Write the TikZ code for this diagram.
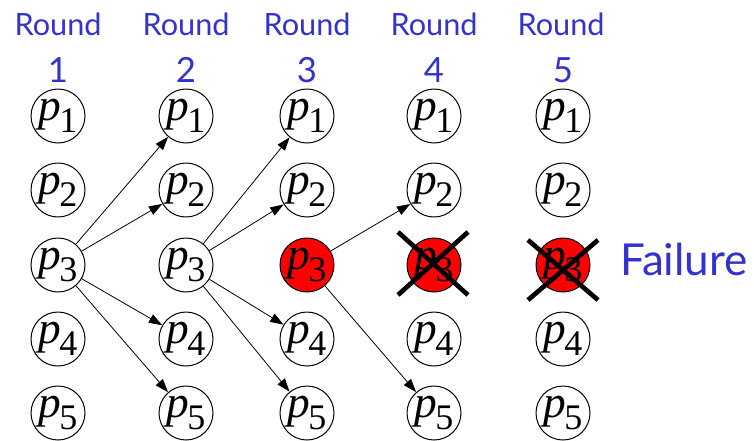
\documentclass[tikz,border=0pt]{standalone}
\usepackage{fontspec}
\setmainfont{Liberation Serif}
\newfontfamily\roundfont{Lato}
\usetikzlibrary{arrows.meta}
\definecolor{roundblue}{RGB}{51,51,204}
\newcommand\proc[1]{\fontsize{34}{34}\selectfont\textit{p}\kern-1.5pt\raisebox{-9pt}{\fontsize{27}{27}\selectfont #1}}
\tikzset{
  proc/.style={circle,draw,line width=0.75pt,minimum size=40.5pt,inner sep=0pt,fill=white},
  failed/.style={proc,fill=red},
  msg/.style={-{Triangle[length=10pt,width=7pt]},line width=0.6pt},
  crossline/.style={line width=3.5pt},
  rlabel/.style={anchor=base,inner sep=0pt,text=roundblue,font=\roundfont\fontsize{23}{23}\selectfont},
  nlabel/.style={rlabel,font=\roundfont\fontsize{26}{26}\selectfont}
}
\begin{document}
\begin{tikzpicture}[x=0.75pt,y=-0.75pt]
		\useasboundingbox (0,0) rectangle (754,440);
		
		\node[rlabel] (r1) at (58,35) {Round};
		\node[nlabel] (n1) at (58,82) {1};
		\node[rlabel] (r2) at (186,35) {Round};
		\node[nlabel] (n2) at (186,82) {2};
		\node[rlabel] (r3) at (307,35) {Round};
		\node[nlabel] (n3) at (307,82) {3};
		\node[rlabel] (r4) at (434,35) {Round};
		\node[nlabel] (n4) at (434,82) {4};
		\node[rlabel] (r5) at (561,35) {Round};
		\node[nlabel] (n5) at (563,82) {5};
		
		\node[proc] (c1p1) at (58,116) {\proc{1}};
		\node[proc] (c1p2) at (58,190) {\proc{2}};
		\node[proc] (c1p3) at (58,265) {\proc{3}};
		\node[proc] (c1p4) at (58,339) {\proc{4}};
		\node[proc] (c1p5) at (58,413) {\proc{5}};
		
		\node[proc] (c2p1) at (186,116) {\proc{1}};
		\node[proc] (c2p2) at (186,190) {\proc{2}};
		\node[proc] (c2p3) at (186,265) {\proc{3}};
		\node[proc] (c2p4) at (186,339) {\proc{4}};
		\node[proc] (c2p5) at (186,413) {\proc{5}};
		
		\node[proc] (c3p1) at (307,116) {\proc{1}};
		\node[proc] (c3p2) at (307,190) {\proc{2}};
		\node[failed] (c3p3) at (307,265) {\proc{3}};
		\node[proc] (c3p4) at (307,339) {\proc{4}};
		\node[proc] (c3p5) at (307,413) {\proc{5}};
		
		\node[proc] (c4p1) at (434,116) {\proc{1}};
		\node[proc] (c4p2) at (434,190) {\proc{2}};
		\node[failed] (c4p3) at (434,265) {\proc{3}};
		\node[proc] (c4p4) at (434,339) {\proc{4}};
		\node[proc] (c4p5) at (434,413) {\proc{5}};
		
		\node[proc] (c5p1) at (563,116) {\proc{1}};
		\node[proc] (c5p2) at (563,190) {\proc{2}};
		\node[failed] (c5p3) at (563,265) {\proc{3}};
		\node[proc] (c5p4) at (563,339) {\proc{4}};
		\node[proc] (c5p5) at (563,413) {\proc{5}};
		
		\draw[msg] (c1p3) -- (c2p1);
		\draw[msg] (c1p3) -- (c2p2);
		\draw[msg] (c1p3) -- (c2p4);
		\draw[msg] (c1p3) -- (c2p5);
		
		\draw[msg] (c2p3) -- (c3p1);
		\draw[msg] (c2p3) -- (c3p2);
		\draw[msg] (c2p3) -- (c3p4);
		\draw[msg] (c2p3) -- (c3p5);
		
		\draw[msg] (c3p3) -- (c4p2);
		\draw[msg] (c3p3) -- (c4p5);
		
		\draw[crossline] ([shift={(-36,-33)}]c4p3.center) -- ([shift={(34,30)}]c4p3.center);
		\draw[crossline] ([shift={(34,-33)}]c4p3.center) -- ([shift={(-36,30)}]c4p3.center);
		\draw[crossline] ([shift={(-35,-25)}]c5p3.center) -- ([shift={(35,35)}]c5p3.center);
		\draw[crossline] ([shift={(35,-25)}]c5p3.center) -- ([shift={(-35,35)}]c5p3.center);
		
		\node[rlabel,font=\roundfont\fontsize{33}{33}\selectfont] (fail) at (684,275) {Failure};
\end{tikzpicture}
\end{document}
